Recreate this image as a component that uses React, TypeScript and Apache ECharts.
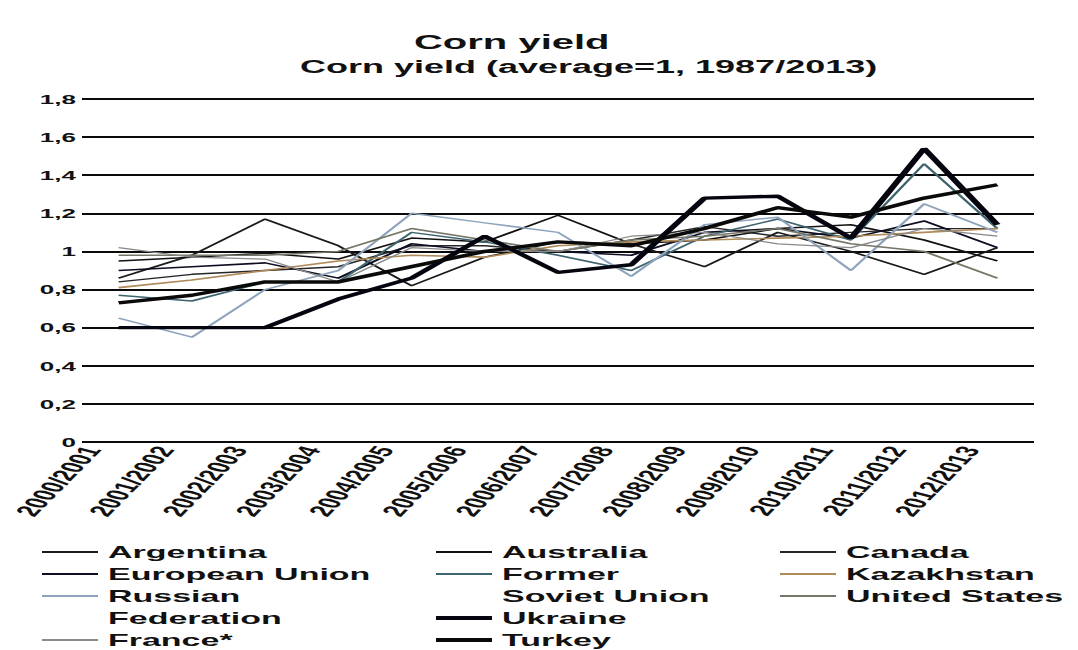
import { useEffect, useRef } from "react";
import * as echarts from "echarts";

// Marketing years on the category axis
const seasons = [
  "2000/2001", "2001/2002", "2002/2003", "2003/2004", "2004/2005", "2005/2006", "2006/2007",
  "2007/2008", "2008/2009", "2009/2010", "2010/2011", "2011/2012", "2012/2013",
];

// Corn yield relative to the 1987/2013 average (average = 1)
const argentina = [0.86, 0.98, 1.17, 1.03, 0.82, 0.97, 1.05, 1.04, 0.92, 1.1, 1.0, 0.88, 1.02];
const australia = [0.95, 0.97, 0.99, 0.96, 1.07, 1.05, 1.19, 1.04, 1.06, 1.12, 1.14, 1.06, 0.95];
const canada = [0.84, 0.88, 0.9, 0.92, 1.03, 1.03, 1.0, 1.06, 1.13, 1.08, 1.1, 1.12, 1.12];
const europeanUnion = [0.9, 0.92, 0.94, 0.86, 1.04, 1.0, 1.0, 0.98, 1.1, 1.12, 1.07, 1.16, 1.02];
const formerSovietUnion = [0.77, 0.74, 0.84, 0.84, 1.1, 1.05, 0.98, 0.9, 1.08, 1.17, 1.06, 1.46, 1.12];
const kazakhstan = [0.81, 0.85, 0.9, 0.95, 0.98, 0.97, 1.03, 1.05, 1.06, 1.07, 1.08, 1.1, 1.12];
const russianFederation = [0.65, 0.55, 0.8, 0.9, 1.2, 1.15, 1.1, 0.87, 1.14, 1.18, 0.9, 1.25, 1.1];
const unitedStates = [0.98, 0.98, 0.98, 1.0, 1.12, 1.06, 1.0, 1.06, 1.08, 1.12, 1.04, 1.0, 0.86];
const france = [1.02, 0.97, 0.96, 0.84, 1.02, 1.0, 1.0, 1.08, 1.1, 1.04, 1.02, 1.12, 1.08];
const ukraine = [0.6, 0.6, 0.6, 0.75, 0.86, 1.08, 0.89, 0.93, 1.28, 1.29, 1.07, 1.54, 1.14];
const turkey = [0.73, 0.77, 0.84, 0.84, 0.92, 1.0, 1.05, 1.03, 1.12, 1.23, 1.18, 1.28, 1.35];

// Value axis range and step
const yMin = 0;
const yMax = 1.8;
const yStep = 0.2;

const seriesData: [string, number[]][] = [
  ["Argentina", argentina],
  ["Australia", australia],
  ["Canada", canada],
  ["European Union", europeanUnion],
  ["Former Soviet Union", formerSovietUnion],
  ["Kazakhstan", kazakhstan],
  ["Russian Federation", russianFederation],
  ["United States", unitedStates],
  ["France*", france],
  ["Ukraine", ukraine],
  ["Turkey", turkey],
];

// Line colours and widths per country
const lineStyles: Record<string, { color: string; width: number }> = {
  Argentina: { color: "#1b1b1b", width: 1.5 },
  Australia: { color: "#121212", width: 1.5 },
  Canada: { color: "#262626", width: 1.4 },
  "European Union": { color: "#0e0e22", width: 1.6 },
  "Former Soviet Union": { color: "#3e6470", width: 1.5 },
  Kazakhstan: { color: "#b08a58", width: 1.6 },
  "Russian Federation": { color: "#8ea4bd", width: 1.5 },
  "United States": { color: "#777768", width: 1.6 },
  "France*": { color: "#8a8a8a", width: 1.2 },
  Ukraine: { color: "#050510", width: 3.4 },
  Turkey: { color: "#0a0a0a", width: 3.4 },
};

// Legend labels that wrap onto the next row; the leading blank line keeps
// the first word level with the legend line, since labels are centred on it.
const legendLabels: Record<string, string> = {
  "Russian Federation": "\nRussian\nFederation",
  "Former Soviet Union": "\nFormer\nSoviet Union",
};

// Legend grid: [series, column, row]
const legendSlots: [string, number, number][] = [
  ["Argentina", 0, 0],
  ["European Union", 0, 1],
  ["Russian Federation", 0, 2],
  ["France*", 0, 4],
  ["Australia", 1, 0],
  ["Former Soviet Union", 1, 1],
  ["Ukraine", 1, 3],
  ["Turkey", 1, 4],
  ["Canada", 2, 0],
  ["Kazakhstan", 2, 1],
  ["United States", 2, 2],
];

// The chart is laid out at half width and stretched horizontally by 2
const STRETCH = 2;
const PAGE_W = 1078;
const PAGE_H = 650;
const BASE_W = PAGE_W / STRETCH;

const FONT = "'Liberation Sans', Arial, sans-serif";
const LEGEND_COLS = [21, 218, 390];
const LEGEND_ROW0 = 552;
const LEGEND_STEP = 22;
const SINGLE_LH = 18;

function formatTick(v: number): string {
  const r = Math.round(v * 10) / 10;
  return String(r).replace(".", ",");
}

export default function App() {
  const ref = useRef<HTMLDivElement>(null);

  useEffect(() => {
    if (!ref.current) return;
    const chart = echarts.init(ref.current, undefined, { renderer: "svg" });

    const legends = legendSlots.map(([name, col, row]) => {
      const label = legendLabels[name] ?? name;
      const multi = label.includes("\n");
      const st = lineStyles[name];
      const rowY = LEGEND_ROW0 + row * LEGEND_STEP;
      const lh = multi ? LEGEND_STEP : SINGLE_LH;
      return {
        data: [name],
        orient: "horizontal",
        left: LEGEND_COLS[col],
        top: multi ? rowY - 1.5 * lh : rowY - 0.5 * lh,
        padding: 0,
        itemGap: 0,
        icon: "rect",
        itemWidth: 28,
        itemHeight: st.width > 2 ? 4 : 2,
        formatter: (n: string) => legendLabels[n] ?? n,
        textStyle: {
          fontFamily: FONT,
          fontSize: 17,
          fontWeight: "bold",
          lineHeight: lh,
          color: "#111",
        },
      };
    });

    chart.setOption({
      animation: false,
      backgroundColor: "#ffffff",
      title: [
        {
          text: "Corn yield",
          left: 207,
          top: 32,
          padding: 0,
          textStyle: { fontFamily: FONT, fontSize: 20, fontWeight: "bold", color: "#111" },
        },
        {
          text: "Corn yield (average=1, 1987/2013)",
          left: 150,
          top: 58,
          padding: 0,
          textStyle: { fontFamily: FONT, fontSize: 18, fontWeight: "bold", color: "#111" },
        },
      ],
      legend: legends,
      grid: {
        left: 41,
        right: BASE_W - 517,
        top: 99,
        bottom: PAGE_H - 442,
        containLabel: false,
        outerBoundsMode: "none",
      },
      xAxis: {
        type: "category",
        data: seasons,
        boundaryGap: true,
        axisLine: { show: false },
        axisTick: { show: false },
        axisLabel: {
          interval: 0,
          rotate: 63.4,
          margin: 12,
          verticalAlign: "bottom",
          lineHeight: 30,
          fontFamily: FONT,
          fontSize: 16,
          fontWeight: "bold",
          color: "#111",
        },
      },
      yAxis: {
        type: "value",
        min: yMin,
        max: yMax,
        interval: yStep,
        axisLine: { show: false },
        axisTick: { show: false },
        axisLabel: {
          margin: 3,
          fontFamily: FONT,
          fontSize: 13,
          fontWeight: "bold",
          color: "#111",
          formatter: formatTick,
        },
        splitLine: { show: true, lineStyle: { color: "#0a0a0a", width: 2.2 } },
      },
      series: seriesData.map(([name, values]) => {
        const st = lineStyles[name];
        return {
          name,
          type: "line",
          data: values,
          color: st.color,
          symbol: "none",
          showSymbol: false,
          itemStyle: { color: st.color },
          lineStyle: { color: st.color, width: st.width },
          z: st.width > 2 ? 3 : 2,
        };
      }),
    });

    return () => chart.dispose();
  }, []);

  return (
    <div
      ref={ref}
      style={{
        position: "absolute",
        left: 0,
        top: 0,
        width: BASE_W,
        height: PAGE_H,
        transform: `scaleX(${STRETCH})`,
        transformOrigin: "0 0",
      }}
    />
  );
}
